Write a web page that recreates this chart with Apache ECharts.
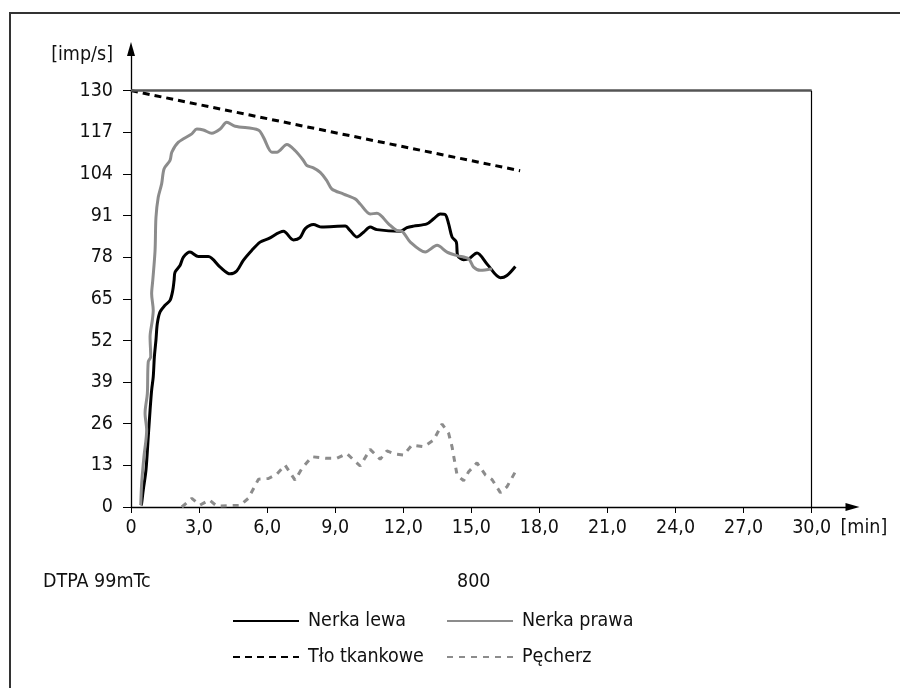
<!DOCTYPE html>
<html><head><meta charset="utf-8">
<script src="https://cdn.jsdelivr.net/npm/echarts@6/dist/echarts.min.js"></script>
<style>html,body{margin:0;padding:0;background:#fff}#c{width:900px;height:688px}</style>
</head><body><div id="c"></div>
<script>
const FONT = "'DejaVu Sans Condensed','Liberation Sans',sans-serif";
const xTicks = [0,3,6,9,12,15,18,21,24,27,30];
const yTicks = [0,13,26,39,52,65,78,91,104,117,130];
const seriesNames = ['Nerka lewa','Nerka prawa','Tło tkankowe','Pęcherz'];
const nerkaLewa = [[0.45,0.5],[0.47,1.2],[0.54,5.3],[0.66,11.5],[0.76,21.9],[0.84,30.2],[0.91,36.5],[0.98,40.6],[1.03,46.9],[1.10,52.1],[1.16,57.3],[1.28,60.9],[1.50,63],[1.72,64.5],[1.84,67.6],[1.90,70.8],[1.94,73.3],[2.16,75.4],[2.31,78],[2.60,79.6],[2.97,78.2],[3.41,78.2],[3.93,74.9],[4.37,72.8],[4.66,73.7],[4.95,77],[5.32,80.1],[5.69,82.7],[6.06,83.8],[6.72,86.1],[7.16,83.4],[7.45,84.1],[7.68,86.9],[8.04,88.2],[8.41,87.4],[9.44,87.7],[9.66,86.3],[9.96,84.3],[10.25,85.8],[10.54,87.4],[10.84,86.6],[11.87,86.1],[12.16,87.2],[12.45,87.7],[13.04,88.4],[13.34,90],[13.63,91.5],[13.85,91.3],[14.0,88.4],[14.15,84.3],[14.34,82.7],[14.40,78.5],[14.66,77.2],[14.88,77.5],[15.25,79.3],[15.69,75.9],[16.28,71.6],[16.57,72.3],[16.94,75.1]];
const nerkaPrawa = [[0.43,0.6],[0.47,7.4],[0.57,15.7],[0.69,24],[0.62,29.3],[0.72,35.4],[0.76,45.3],[0.87,46.9],[0.84,53.1],[0.94,58.3],[0.98,61.4],[0.91,66.6],[0.96,70.8],[1.06,80],[1.10,90.4],[1.20,96.7],[1.35,100.9],[1.46,105.6],[1.72,108.2],[1.80,110.8],[2.09,113.9],[2.68,116.5],[2.90,118],[3.19,117.7],[3.56,116.7],[3.93,118],[4.22,120.1],[4.59,118.9],[5.62,117.7],[5.84,115.4],[6.21,110.8],[6.43,110.8],[6.87,113.2],[7.23,111.3],[7.60,108.2],[7.75,106.6],[8.04,105.9],[8.34,104.5],[8.63,101.9],[8.85,99.3],[9.37,97.7],[9.88,96.2],[10.10,94.6],[10.54,91.5],[10.84,91.7],[11.35,88.4],[11.72,86.3],[11.94,86.1],[12.31,82.7],[12.97,79.6],[13.49,81.7],[13.93,79.6],[14.37,78.5],[14.88,77.5],[15.10,74.9],[15.40,73.9],[15.91,74.4]];
const tloTkankowe = [[0,130],[17.15,105]];
const pecherz = [[2.24,0],[2.68,2.7],[3.04,0.6],[3.45,2.2],[3.78,0.3],[4.81,0.5],[5.17,2.7],[5.62,8.7],[6.06,8.9],[6.43,10.3],[6.79,13.1],[7.23,8.4],[7.53,12],[7.97,15.7],[8.63,15.2],[9.07,15.2],[9.51,16.7],[10.10,12.8],[10.54,18],[10.98,14.9],[11.28,17.5],[11.65,16.5],[12.01,16.2],[12.38,19.3],[12.9,18.8],[13.34,20.9],[13.71,25.9],[14.0,23],[14.15,18.8],[14.37,10],[14.66,8.2],[14.88,11],[15.25,13.8],[15.62,10],[15.91,8.6],[16.28,4.5],[16.57,6.3],[16.94,11]];

const chart = echarts.init(document.getElementById('c'), null, {renderer:'canvas'});
const txt = {fontFamily: FONT, fontSize: 19.5, color: '#111'};
const fmtX = v => v === 0 ? '0' : v.toFixed(1).replace('.', ',');
chart.setOption({
  animation: false,
  backgroundColor: '#fff',
  textStyle: {fontFamily: FONT},
  graphic: [{type:'rect', shape:{x:10, y:13, width:1000, height:1000}, style:{fill:'none', stroke:'#333', lineWidth:2}, silent:true}],
  title: [
    {text:'DTPA 99mTc', left: 38, top: 567, textStyle: Object.assign({fontWeight:'normal'}, txt)},
    {text:'800', left: 452, top: 567, textStyle: Object.assign({fontWeight:'normal'}, txt)}
  ],
  legend: [
    {data:['Nerka lewa','Tło tkankowe'], orient:'vertical', left: 227, top: 604, itemWidth: 66, itemHeight: 14, itemGap: 12,
     itemStyle:{opacity:0}, textStyle: Object.assign({lineHeight: 24, padding:[0,0,0,4]}, txt), selectedMode:false},
    {data:['Nerka prawa','Pęcherz'], orient:'vertical', left: 441, top: 604, itemWidth: 66, itemHeight: 14, itemGap: 12,
     itemStyle:{opacity:0}, textStyle: Object.assign({lineHeight: 24, padding:[0,0,0,4]}, txt), selectedMode:false}
  ],
  grid: {left: 131, right: 47.5, top: 49, bottom: 181, containLabel: false, outerBoundsMode: 'none'},
  xAxis: {
    type:'value', min: 0, max: 31.8,
    name: '[min]', nameLocation: 'end', nameGap: -12,
    nameTextStyle: Object.assign({align:'left', verticalAlign:'top', padding:[11,0,0,0]}, txt),
    axisLine: {show:true, lineStyle:{color:'#000', width:1.3}, symbol:['none','triangle'], symbolSize:[8,14]},
    axisTick: {show:true, length:6, lineStyle:{color:'#000'}, customValues: xTicks},
    axisLabel: Object.assign({margin: 11, formatter: fmtX, customValues: xTicks}, txt),
    splitLine: {show:false}
  },
  yAxis: {
    type:'value', min: 0, max: 143,
    name: '[imp/s]', nameLocation:'end', nameGap: -6,
    nameTextStyle: Object.assign({align:'right', verticalAlign:'middle', padding:[0,18,0,0]}, txt),
    axisLine: {show:true, lineStyle:{color:'#000', width:1.3}, symbol:['none','triangle'], symbolSize:[8,14]},
    axisTick: {show:true, length:8, lineStyle:{color:'#000'}, customValues: yTicks},
    axisLabel: Object.assign({margin: 18, customValues: yTicks}, txt),
    splitLine: {show:false}
  },
  series: [
    {name: seriesNames[0], type:'line', data: nerkaLewa, symbol:'none', smooth: 0.3, lineStyle:{color:'#000', width:3}, itemStyle:{color:'#000'}},
    {name: seriesNames[1], type:'line', data: nerkaPrawa, symbol:'none', smooth: 0.3, lineStyle:{color:'#8c8c8c', width:3}, itemStyle:{color:'#8c8c8c'}},
    {name: seriesNames[2], type:'line', data: tloTkankowe, symbol:'none', lineStyle:{color:'#000', width:3, type:[7,5]}, itemStyle:{color:'#000'},
     markLine: {silent:true, symbol:['none','none'], label:{show:false}, animation:false,
       data: [
         [{coord:[0,130], lineStyle:{color:'#555', width:2.5, type:'solid'}}, {coord:[30,130]}],
         [{coord:[30,0], lineStyle:{color:'#000', width:1.2, type:'solid'}}, {coord:[30,130]}]
       ]}},
    {name: seriesNames[3], type:'line', data: pecherz, symbol:'none', lineStyle:{color:'#8c8c8c', width:3, type:[6,6]}, itemStyle:{color:'#8c8c8c'}}
  ]
});
</script></body></html>
